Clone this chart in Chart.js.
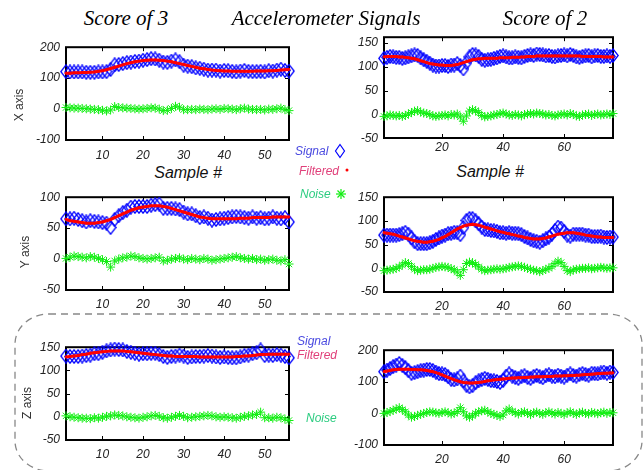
<!DOCTYPE html>
<html><head><meta charset="utf-8">
<script src="https://cdn.jsdelivr.net/npm/chart.js@4.4.1/dist/chart.umd.min.js"></script>
<style>
html,body{margin:0;padding:0;background:#fff;}
#wrap{position:relative;width:643px;height:470px;overflow:hidden;background:#fff;}
canvas.c{position:absolute;}
.t{position:absolute;white-space:nowrap;line-height:1;transform:translate(-50%,-50%);}
.title{font-family:"Liberation Serif","DejaVu Serif",serif;font-style:italic;font-size:21px;color:#000;}
.samp{font-family:"Liberation Sans",Arial,sans-serif;font-style:italic;font-size:16px;color:#111;}
.yl{font-family:"Liberation Sans",Arial,sans-serif;font-size:12px;color:#333;transform:translate(-50%,-50%) rotate(-90deg);}
.lg{position:absolute;white-space:nowrap;line-height:1;font-family:"Liberation Sans",Arial,sans-serif;font-style:italic;font-size:12px;transform:translateY(-50%);}
</style></head>
<body>
<div id="wrap">
<svg style="position:absolute;left:0;top:0" width="643" height="470">
  <rect x="15" y="314" width="627" height="157" rx="34" ry="30" fill="none" stroke="#888" stroke-width="1.3" stroke-dasharray="7 5"/>
  <polygon points="340,144.5 344.5,151 340,157.5 335.5,151" fill="none" stroke="#0000ff" stroke-width="1.2"/>
  <circle cx="347" cy="170" r="1.5" fill="#ff0000"/>
  <g stroke="#11ee11" stroke-width="1.2">
    <line x1="336" y1="194" x2="346" y2="194"/><line x1="341" y1="189" x2="341" y2="199"/>
    <line x1="337.5" y1="190.5" x2="344.5" y2="197.5"/><line x1="344.5" y1="190.5" x2="337.5" y2="197.5"/>
  </g>
</svg>
</div>
<script>
// ---------- categories / ticks ----------
const samplesScore3 = [1,2,3,4,5,6,7,8,9,10,11,12,13,14,15,16,17,18,19,20,21,22,23,24,25,26,27,28,29,30,31,32,33,34,35,36,37,38,39,40,41,42,43,44,45,46,47,48,49,50,51,52,53,54,55,56];
const samplesScore2 = [1,2,3,4,5,6,7,8,9,10,11,12,13,14,15,16,17,18,19,20,21,22,23,24,25,26,27,28,29,30,31,32,33,34,35,36,37,38,39,40,41,42,43,44,45,46,47,48,49,50,51,52,53,54,55,56,57,58,59,60,61,62,63,64,65,66,67,68,69,70,71,72,73,74,75,76];
const xTicksScore3 = [10,20,30,40,50];
const xTicksScore2 = [20,40,60];
const yTicksX3 = [-100,0,100,200];
const yTicksX2 = [-50,0,50,100,150];
const yTicksY3 = [-50,0,50,100];
const yTicksY2 = [-50,0,50,100,150];
const yTicksZ3 = [-50,0,50,100,150];
const yTicksZ2 = [-100,0,100,200];

// ---------- X axis, score 3 ----------
const xSignal3 = [121,120,120,120,120,119,119,119,120,120, 121,128,143,144,147,150,152,154,155,158, 160,163,162,158,152,151,155,159,153,142, 139,137,133,132,129,126,126,126,123,125, 124,122,120,123,125,122,121,121,122,120, 124,123,126,129,125,123];
const xFiltered3 = [116,116,117,117,118,118,119,120,122,124, 127,131,135,139,143,147,150,153,155,157, 158,159,159,158,157,155,153,150,147,144, 141,138,135,132,130,128,126,125,124,123, 123,122,122,122,122,122,122,123,123,123, 124,124,125,126,127,128];
const xNoise3 = [5,4,3,3,2,1,0,-1,-2,-4, -6,-3,8,5,4,3,2,1,0,1, 2,4,3,0,-5,-4,2,9,6,-2, -2,-1,-2,0,-1,-2,0,1,-1,2, 1,0,-2,1,3,0,-1,-2,-1,-3, 0,-1,1,3,-2,-5];

// ---------- X axis, score 2 ----------
const xSignal2 = [118,120,122,121,120,120,118,119,121,123, 125,124,119,115,112,108,104,102,102,103, 103,101,104,104,107,103,96,109,121,126, 125,122,116,114,115,116,118,119,122,123, 121,119,119,121,120,119,122,124,125,124, 127,126,125,123,124,122,121,123,124,125, 123,126,124,121,120,122,123,124,121,123, 124,122,122,123,122,124];
const xFiltered2 = [121,122,122,122,122,121,121,120,119,118, 117,115,113,111,109,107,106,105,104,104, 103,103,103,104,105,107,109,111,113,115, 116,117,117,118,118,118,118,118,119,119, 119,119,120,120,120,121,121,122,122,122, 123,123,123,123,123,123,123,123,123,123, 123,123,123,123,123,122,122,122,122,122, 122,122,121,121,121,121];
const xNoise2 = [-3,-2,0,-1,-2,-1,-3,-1,2,5, 8,9,6,4,3,1,-2,-3,-2,-1, 0,-2,1,0,2,-4,-13,-2,8,11, 9,5,-1,-4,-3,-2,0,1,3,4, 2,0,-1,1,0,-2,1,2,3,2, 4,3,2,0,1,-1,-2,0,1,2, 0,3,1,-2,-3,0,1,2,-1,1, 2,0,1,2,1,3];

// ---------- Y axis, score 3 ----------
const ySignal3 = [65,65,66,64,62,60,62,61,60,59, 58,51,64,70,75,79,84,85,85,85, 85,87,88,89,82,82,82,81,80,76, 73,73,70,67,68,66,63,64,65,66, 67,68,69,68,67,66,68,66,67,65, 66,68,66,65,67,60];
const yFiltered3 = [64,62,61,60,59,58,58,58,59,60, 62,64,67,70,73,76,79,81,83,84, 85,86,86,86,85,84,82,80,78,76, 74,72,70,68,67,66,65,65,65,65, 65,65,65,66,66,66,67,67,67,67, 67,68,68,68,68,68];
const yNoise3 = [1,3,5,4,3,2,4,3,1,-1, -4,-13,-3,0,2,3,5,4,2,1, 0,1,2,3,-3,-2,0,1,2,0, -1,1,0,-1,1,0,-2,-1,0,1, 2,3,4,2,1,0,1,-1,0,-2, -1,0,-2,-3,-1,-8];

// ---------- Y axis, score 2 ----------
const ySignal2 = [70,70,70,70,70,71,73,76,72,64, 56,52,52,52,52,54,57,61,64,68, 70,73,74,76,75,71,86,101,105,105, 100,94,87,82,81,80,79,78,75,75, 74,75,74,74,73,71,67,64,61,58, 57,55,58,62,66,72,80,87,85,78, 70,68,72,72,72,72,70,70,67,67, 67,68,66,65,66,66];
const yFiltered2 = [75,74,73,72,70,68,66,64,62,60, 58,57,56,55,55,56,57,59,61,64, 67,71,75,79,83,86,89,91,92,93, 92,91,89,87,85,83,81,79,77,76, 74,73,71,70,68,67,65,64,63,62, 62,62,63,64,66,68,70,72,73,74, 75,75,75,74,73,72,70,69,68,67, 66,66,65,65,65,65];
const yNoise2 = [-5,-4,-3,-2,0,3,7,12,10,4, -2,-5,-4,-3,-3,-2,0,2,3,4, 3,2,-1,-3,-8,-15,-3,10,13,12, 8,3,-2,-5,-4,-3,-2,-1,-2,-1, 0,2,3,4,5,4,2,0,-2,-4, -5,-7,-5,-2,0,4,10,15,12,4, -5,-7,-3,-2,-1,0,0,1,-1,0, 1,2,1,0,1,1];

// ---------- Z axis, score 3 ----------
const zSignal3 = [131,130,130,130,131,132,133,136,136,139, 142,144,146,145,144,141,139,137,135,136, 136,137,137,134,130,128,130,131,133,131, 128,129,130,130,131,132,131,129,128,129, 128,127,127,129,132,133,136,138,144,132, 133,132,134,133,130,127];
const zFiltered3 = [129,130,131,132,134,135,137,138,139,140, 141,142,142,142,142,141,140,139,138,137, 136,135,134,133,132,131,131,130,130,130, 130,130,130,129,129,129,129,129,129,129, 129,129,130,130,131,131,132,133,134,134, 135,135,135,135,135,135];
const zNoise3 = [2,0,-1,-2,-3,-3,-4,-2,-3,-1, 1,2,4,3,2,0,-1,-2,-3,-1, 0,2,3,1,-2,-3,-1,1,3,1, -2,-1,0,1,2,3,2,0,-1,0, -1,-2,-3,-1,1,2,4,5,10,-2, -2,-3,-1,-2,-5,-8];

// ---------- Z axis, score 2 ----------
const zSignal2 = [132,137,142,148,153,158,152,145,135,127, 129,132,135,137,139,139,136,131,126,125, 123,116,108,106,109,118,103,89,84,88, 97,103,107,111,108,104,103,101,98,104, 118,125,118,114,111,116,119,114,111,117, 120,116,113,119,122,118,116,121,118,115, 121,125,120,118,123,126,123,121,127,126, 125,128,131,127,131,130];
const zFiltered2 = [132,134,136,138,139,140,140,140,140,139, 139,138,138,137,136,134,132,129,126,122, 118,114,110,106,103,100,98,97,96,96, 97,98,99,101,103,104,106,107,108,109, 110,111,112,112,113,113,114,114,115,115, 116,116,116,117,117,117,118,118,118,119, 119,120,120,121,121,122,123,123,124,125, 126,126,127,127,128,128];
const zNoise2 = [0,3,6,10,14,18,12,5,-5,-12, -10,-6,-3,0,3,5,4,2,0,3, 5,2,-2,0,6,18,5,-8,-12,-8, 0,5,8,10,5,0,-3,-6,-10,-5, 8,14,6,2,-2,3,5,0,-4,2, 4,0,-3,2,5,1,-2,3,0,-4, 2,5,0,-3,2,4,0,-2,3,1, -1,2,4,0,3,2];

// ---------- layout (positions only) ----------
const YW = 46, XH = 24, PT = 8, PR = 8;
const panels = [
  {samples:samplesScore3, signal:xSignal3, filtered:xFiltered3, noise:xNoise3, xTicks:xTicksScore3, yTicks:yTicksX3, xMin:1, xMax:56, yMin:-100, yMax:200, box:[66,42,289,140], xPad:8},
  {samples:samplesScore2, signal:xSignal2, filtered:xFiltered2, noise:xNoise2, xTicks:xTicksScore2, yTicks:yTicksX2, xMin:1, xMax:76, yMin:-48, yMax:162, box:[384,32,613,138], xPad:2},
  {samples:samplesScore3, signal:ySignal3, filtered:yFiltered3, noise:yNoise3, xTicks:xTicksScore3, yTicks:yTicksY3, xMin:1, xMax:56, yMin:-50, yMax:100, box:[66,192,289,290], xPad:7},
  {samples:samplesScore2, signal:ySignal2, filtered:yFiltered2, noise:yNoise2, xTicks:xTicksScore2, yTicks:yTicksY2, xMin:1, xMax:76, yMin:-50, yMax:150, box:[384,192,613,292], xPad:7},
  {samples:samplesScore3, signal:zSignal3, filtered:zFiltered3, noise:zNoise3, xTicks:xTicksScore3, yTicks:yTicksZ3, xMin:1, xMax:56, yMin:-50, yMax:150, box:[66,342,289,440], xPad:7},
  {samples:samplesScore2, signal:zSignal2, filtered:zFiltered2, noise:zNoise2, xTicks:xTicksScore2, yTicks:yTicksZ2, xMin:1, xMax:76, yMin:-100, yMax:200, box:[384,345,613,445], xPad:7}
];

const diamondImg = document.createElement('canvas');
diamondImg.width = 12; diamondImg.height = 15;
(function(){
  const dc = diamondImg.getContext('2d');
  dc.strokeStyle = '#0000ff'; dc.lineWidth = 1.3;
  dc.beginPath(); dc.moveTo(6,0.8); dc.lineTo(11.2,7.5); dc.lineTo(6,14.2); dc.lineTo(0.8,7.5); dc.closePath(); dc.stroke();
})();

const boxPlugin = {
  id:'boxTicks',
  beforeDatasetsDraw(chart){
    const {ctx, chartArea:a} = chart; const x = chart.scales.x, y = chart.scales.y;
    ctx.save();
    ctx.strokeStyle = '#000'; ctx.lineWidth = 2;
    ctx.strokeRect(a.left, a.top, a.right - a.left, a.bottom - a.top);
    ctx.lineWidth = 1; ctx.beginPath();
    x.ticks.forEach(t => { const px = Math.round(x.getPixelForValue(t.value)) + 0.5; if (px < a.left || px > a.right) return;
      ctx.moveTo(px, a.bottom); ctx.lineTo(px, a.bottom - 4); ctx.moveTo(px, a.top); ctx.lineTo(px, a.top + 4); });
    y.ticks.forEach(t => { const py = Math.round(y.getPixelForValue(t.value)) + 0.5; if (py < a.top || py > a.bottom) return;
      ctx.moveTo(a.left, py); ctx.lineTo(a.left + 4, py); ctx.moveTo(a.right, py); ctx.lineTo(a.right - 4, py); });
    ctx.stroke(); ctx.restore();
  }
};

const tickFont = {family:'"Liberation Sans", Arial, sans-serif', style:'italic', size:12};
const wrap = document.getElementById('wrap');

panels.forEach(p => {
  const cv = document.createElement('canvas');
  const W = p.box[2] - p.box[0] + YW + PR, H = p.box[3] - p.box[1] + PT + XH;
  cv.width = W; cv.height = H; cv.className = 'c';
  cv.style.left = (p.box[0] - YW) + 'px'; cv.style.top = (p.box[1] - PT) + 'px';
  cv.style.width = W + 'px'; cv.style.height = H + 'px';
  wrap.appendChild(cv);
  const pts = arr => p.samples.map((s, i) => ({x:s, y:arr[i]}));
  new Chart(cv, {
    type:'scatter',
    data:{datasets:[
      {label:'Filtered', data:pts(p.filtered), showLine:true, borderColor:'#ff0000', backgroundColor:'#ff0000', borderWidth:3,
       pointRadius:1.4, pointStyle:'circle', pointBackgroundColor:'#ff0000', pointBorderWidth:0, clip:false, order:1},
      {label:'Noise', data:pts(p.noise), showLine:false, pointStyle:'star', pointRadius:4.5, pointBorderColor:'#11ee11',
       pointBackgroundColor:'#11ee11', pointBorderWidth:1, clip:false, order:2},
      {label:'Signal', data:pts(p.signal), showLine:false, pointStyle:diamondImg, pointRadius:5, clip:false, order:3}
    ]},
    options:{
      responsive:false, animation:false, devicePixelRatio:1, events:[],
      layout:{padding:{left:0, top:PT, right:PR, bottom:0}, autoPadding:false},
      plugins:{legend:{display:false}, tooltip:{enabled:false}},
      scales:{
        x:{type:'linear', min:p.xMin, max:p.xMax, grid:{display:false, drawTicks:false}, border:{display:false},
           afterBuildTicks:s => { s.ticks = p.xTicks.map(v => ({value:v})); },
           afterFit:s => { s.height = XH; },
           ticks:{padding:p.xPad, color:'#222', font:tickFont, maxRotation:0, autoSkip:false, callback:v => String(v)}},
        y:{type:'linear', min:p.yMin, max:p.yMax, grid:{display:false, drawTicks:false}, border:{display:false},
           afterBuildTicks:s => { s.ticks = p.yTicks.map(v => ({value:v})); },
           afterFit:s => { s.width = YW; },
           ticks:{padding:6, color:'#222', font:tickFont, autoSkip:false, callback:v => String(v)}}
      }
    },
    plugins:[boxPlugin]
  });
});

// ---------- texts ----------
function addText(cls, txt, x, y, color){
  const d = document.createElement('div'); d.className = cls; d.textContent = txt;
  d.style.left = x + 'px'; d.style.top = y + 'px'; if (color) d.style.color = color;
  wrap.appendChild(d);
}
addText('t title', 'Score of 3', 126, 18);
addText('t title', 'Accelerometer Signals', 326, 18);
addText('t title', 'Score of 2', 545, 18);
addText('t samp', 'Sample #', 188, 173);
addText('t samp', 'Sample #', 490, 172);
addText('t yl', 'X axis', 19, 105);
addText('t yl', 'Y axis', 25, 252);
addText('t yl', 'Z axis', 27, 403);
addText('lg', 'Signal', 295, 151, '#4a4ae0');
addText('lg', 'Filtered', 299, 171, '#e0407a');
addText('lg', 'Noise', 300, 194, '#2ccc80');
addText('lg', 'Signal', 297, 341, '#4a4ae0');
addText('lg', 'Filtered', 297, 355, '#e0407a');
addText('lg', 'Noise', 306, 418, '#2ccc80');
</script>
</body></html>
